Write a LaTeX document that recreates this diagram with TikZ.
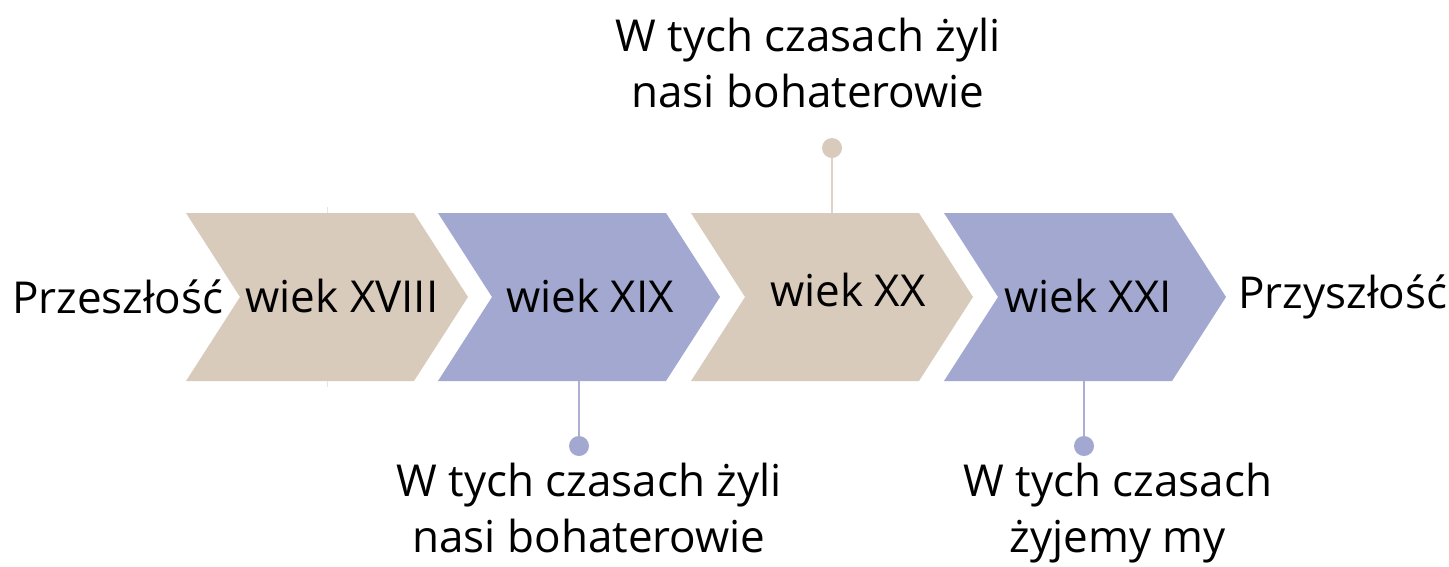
\documentclass[tikz,border=0pt]{standalone}
\usepackage{fontspec}
\setmainfont{Open Sans}
\definecolor{beige}{RGB}{217,203,187}
\definecolor{lav}{RGB}{162,168,207}
\definecolor{beigeline}{RGB}{222,211,198}
\definecolor{lavline}{RGB}{170,176,212}
\begin{document}
\begin{tikzpicture}[x=1pt,y=-1pt,
  lbl/.style={font=\fontsize{44}{56}\selectfont, inner sep=0pt, anchor=base, text=black},
  note/.style={lbl, align=center},
  dot/.style={circle, minimum size=20pt, inner sep=0pt},
  stem/.style={line width=1.4pt}]
\useasboundingbox (0,0) rectangle (1449,566);
% chevrons
\fill[beige] (186,213) -- (414,213) -- (468,297) -- (414,381) -- (186,381) -- (240,297) -- cycle;
\fill[lav]   (438,213) -- (666,213) -- (720,297) -- (666,381) -- (438,381) -- (492,297) -- cycle;
\fill[beige] (691,213) -- (919,213) -- (973,297) -- (919,381) -- (691,381) -- (745,297) -- cycle;
\fill[lav]   (944,213) -- (1172,213) -- (1226,297) -- (1172,381) -- (944,381) -- (998,297) -- cycle;
% chevron labels
\node[lbl] (c1) at (342,312) {wiek XVIII};
\node[lbl] (c2) at (590,312) {wiek XIX};
\node[lbl] (c3) at (848,306) {wiek XX};
\node[lbl] (c4) at (1088,312) {wiek XXI};
\node[lbl, anchor=base west] (past) at (12,313) {Przeszłość};
\node[lbl, anchor=base west] (future) at (1238,308) {Przyszłość};
% faint stubs on first chevron
\coordinate (s1a) at (327,207); \coordinate (s1b) at (327,213);
\coordinate (s1c) at (327,381); \coordinate (s1d) at (327,387);
\draw[beigeline!60, line width=1pt] (s1a) -- (s1b) (s1c) -- (s1d);
% connectors
\coordinate (t3) at (832,213);
\coordinate (b2) at (579,381);
\coordinate (b4) at (1084,381);
\node[dot, fill=beige] (d3) at (832,148) {};
\node[dot, fill=lav] (d2) at (579,446) {};
\node[dot, fill=lav] (d4) at (1084,446) {};
\draw[stem, beigeline] (t3) -- (d3);
\draw[stem, lavline] (b2) -- (d2);
\draw[stem, lavline] (b4) -- (d4);
% notes (anchor=base is the baseline of the last line)
\node[note] (n3) at (808,107) {W tych czasach żyli\\nasi bohaterowie};
\node[note] (n2) at (589,552) {W tych czasach żyli\\nasi bohaterowie};
\node[note] (n4) at (1118,552) {W tych czasach\\żyjemy my};
\end{tikzpicture}
\end{document}
